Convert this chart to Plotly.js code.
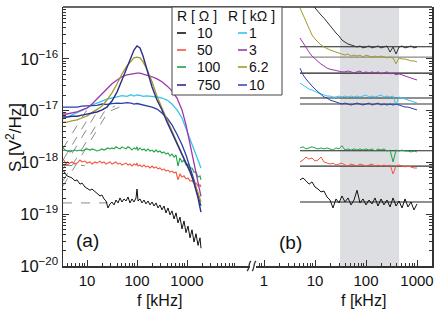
<!DOCTYPE html>
<html><head><meta charset="utf-8">
<script src="https://cdn.plot.ly/plotly-3.0.1.min.js"></script>
<style>html,body{margin:0;padding:0;background:#fff}</style>
</head><body><div id="chart" style="width:436px;height:313px"></div>
<script>
// ---------- panel (a) data (f in kHz, S in V^2/Hz) ----------
const fA = [3.3,4,5,6.3,7.9,10,12.6,15.8,20,25,31.6,40,50,63,76,87,100,115,132,158,200,251,316,398,501,631,794,955,1150,1380,1660,1900];
const a750 = [7.5e-18,7.5e-18,7.8e-18,7.8e-18,8.2e-18,8.6e-18,9.0e-18,9.4e-18,1.03e-17,1.17e-17,1.53e-17,2.3e-17,3.9e-17,6.6e-17,1.08e-16,1.48e-16,1.77e-16,1.62e-16,1.13e-16,6.1e-17,2.85e-17,1.6e-17,1.03e-17,6.0e-18,3.7e-18,2.2e-18,1.39e-18,9.7e-19,6.8e-19,4.0e-19,2.06e-19,1.1e-19];
const a6k2 = [6.0e-18,6.0e-18,6.3e-18,6.6e-18,7.2e-18,7.9e-18,9.0e-18,1.03e-17,1.23e-17,1.6e-17,2.2e-17,3.3e-17,5.1e-17,7.3e-17,9.1e-17,1.04e-16,1.08e-16,1.04e-16,8.7e-17,6.3e-17,3.6e-17,1.9e-17,1.12e-17,6.6e-18,4.0e-18,2.4e-18,1.45e-18,9.7e-19,6.5e-19,4.2e-19,2.6e-19,1.72e-19];
const a3k = [8.6e-18,8.6e-18,9.0e-18,9.4e-18,1.03e-17,1.12e-17,1.34e-17,1.67e-17,2.1e-17,2.6e-17,3.3e-17,3.9e-17,4.5e-17,4.9e-17,5.1e-17,5.3e-17,5.3e-17,5.3e-17,5.1e-17,4.9e-17,4.5e-17,4.1e-17,3.6e-17,3.0e-17,2.4e-17,1.75e-17,1.03e-17,5.3e-18,2.2e-18,8.9e-19,3.7e-19,2.2e-19];
const a1k = [6.9e-18,7.5e-18,8.2e-18,9.0e-18,1.03e-17,1.12e-17,1.28e-17,1.40e-17,1.53e-17,1.67e-17,1.75e-17,1.83e-17,1.95e-17,1.88e-17,2.02e-17,1.9e-17,2.0e-17,1.96e-17,1.88e-17,1.93e-17,1.9e-17,1.83e-17,1.75e-17,1.6e-17,1.34e-17,1.03e-17,7.2e-18,4.6e-18,2.7e-18,1.73e-18,1.11e-18,7.8e-19];
const a10k = [1.17e-17,1.17e-17,1.17e-17,1.17e-17,1.22e-17,1.23e-17,1.28e-17,1.26e-17,1.34e-17,1.32e-17,1.36e-17,1.40e-17,1.38e-17,1.42e-17,1.40e-17,1.34e-17,1.37e-17,1.33e-17,1.28e-17,1.22e-17,1.17e-17,1.07e-17,9.0e-18,7.2e-18,5.3e-18,3.5e-18,2.2e-18,1.39e-18,8.2e-19,4.6e-19,2.35e-19,1.45e-19];

const fD = [3.31,3.63,3.98,4.57,5.01,5.75,6.31,7.24,7.94,9.12,10,11.5,12.6,14.5,15.8,18.2,19.9,21.9,24.0,26.3,28.8,31.6,34.7,38.0,41.7,45.7,50.1,55.0,60.3,66.1,72.4,79.4,87.1,95.5,100,105,115,126,138,151,166,182,200,219,240,263,288,316,347,380,417,457,501,550,603,661,724,794,871,955,1047,1148,1259,1380,1514,1660,1820,1905];
const a10 = [7.1e-19,6.3e-19,5.5e-19,5.2e-19,5.0e-19,4.4e-19,4.6e-19,3.8e-19,4.0e-19,3.35e-19,3.2e-19,2.9e-19,3.06e-19,2.7e-19,2.56e-19,2.25e-19,2.35e-19,1.97e-19,1.80e-19,1.32e-19,1.58e-19,1.72e-19,1.51e-19,1.88e-19,1.65e-19,2.06e-19,1.72e-19,1.97e-19,1.80e-19,2.15e-19,1.65e-19,1.97e-19,1.72e-19,2.06e-19,3.06e-19,1.80e-19,1.97e-19,1.65e-19,1.88e-19,1.58e-19,1.80e-19,1.51e-19,1.72e-19,1.44e-19,1.65e-19,1.32e-19,1.51e-19,1.21e-19,1.44e-19,1.06e-19,1.32e-19,9.7e-20,1.16e-19,8.1e-20,1.06e-19,6.8e-20,8.8e-20,5.2e-20,7.4e-20,4.4e-20,5.9e-20,3.5e-20,5.0e-20,2.9e-20,4.2e-20,2.5e-20,3.5e-20,2.2e-20];
const a100 = [1.90e-18,1.73e-18,1.66e-18,1.59e-18,1.66e-18,1.73e-18,1.66e-18,1.73e-18,1.66e-18,1.73e-18,1.82e-18,1.73e-18,1.82e-18,1.73e-18,1.66e-18,1.73e-18,1.82e-18,1.73e-18,1.82e-18,1.90e-18,1.82e-18,1.90e-18,1.82e-18,2.0e-18,1.90e-18,1.82e-18,2.0e-18,1.90e-18,1.82e-18,2.0e-18,1.90e-18,1.73e-18,1.90e-18,1.82e-18,2.0e-18,1.73e-18,1.90e-18,1.73e-18,1.82e-18,1.66e-18,1.82e-18,1.66e-18,1.73e-18,1.59e-18,1.73e-18,1.59e-18,1.66e-18,1.52e-18,1.59e-18,1.45e-18,1.52e-18,1.33e-18,1.45e-18,1.27e-18,1.39e-18,8.5e-19,1.22e-18,1.02e-18,1.11e-18,8.9e-19,9.3e-19,7.8e-19,7.8e-19,6.5e-19,6.5e-19,5.2e-19,5.5e-19,4.6e-19];
const a50 = [1.16e-18,1.02e-18,8.9e-19,9.7e-19,1.02e-18,9.3e-19,9.7e-19,1.11e-18,1.02e-18,1.06e-18,9.7e-19,1.02e-18,9.3e-19,1.02e-18,9.7e-19,1.06e-18,9.7e-19,1.02e-18,9.3e-19,9.7e-19,1.02e-18,9.3e-19,9.7e-19,1.02e-18,9.3e-19,9.7e-19,8.9e-19,9.3e-19,9.7e-19,8.9e-19,9.3e-19,8.5e-19,9.3e-19,8.9e-19,9.7e-19,8.5e-19,8.9e-19,8.2e-19,8.9e-19,8.2e-19,8.5e-19,7.8e-19,8.5e-19,7.8e-19,8.2e-19,7.5e-19,7.8e-19,7.1e-19,7.5e-19,6.8e-19,7.1e-19,6.5e-19,6.8e-19,6.3e-19,6.5e-19,4.6e-19,6.0e-19,5.2e-19,5.5e-19,4.8e-19,5.0e-19,4.4e-19,4.4e-19,4.0e-19,4.0e-19,3.5e-19,3.7e-19,3.35e-19];

// dashed model curves in panel (a)
const fitF = [[3.31,9.55,14.5],[3.31,12.6,19.9],[3.31,15.8,26.3],[3.31,21.9,36.3],[3.31,26.3,50.1],[3.31,26],[3.31,9],[3.31,8]];
const fitS = [[1.85e-18,9.8e-18,1.17e-17],[1.11e-18,9.4e-18,1.17e-17],[7.5e-19,9.4e-18,1.17e-17],[4.4e-19,9.4e-18,1.23e-17],[3.5e-19,9.4e-18,1.23e-17],[1.65e-19,1.65e-19],[8.7e-19,8.7e-19],[1.7e-18,1.7e-18]];

// ---------- panel (b) data ----------
const fB = [5.08,5.82,6.66,7.63,8.73,10.0,11.45,13.1,15.0,17.2,19.7,22.5,25.8,29.5,33.8,38.7,44.4,50.8,58.2,66.6,76.2,87.3,100,114.5,131,150,172,197,225,258,296,339,388,444,508,582,666,763,873,1000];
const b750 = [5.2e-15,3.6e-15,2.5e-15,1.8e-15,1.25e-15,9.6e-16,8.0e-16,7.0e-16,6.1e-16,5.1e-16,4.3e-16,3.76e-16,3.15e-16,2.75e-16,2.3e-16,2.1e-16,1.93e-16,1.85e-16,1.77e-16,1.69e-16,1.77e-16,1.62e-16,1.69e-16,1.77e-16,1.62e-16,1.69e-16,1.77e-16,1.62e-16,1.69e-16,1.77e-16,1.35e-16,1.69e-16,1.24e-16,1.69e-16,1.77e-16,1.62e-16,1.69e-16,1.77e-16,1.62e-16,1.69e-16];
const b6k2 = [9.6e-16,7.0e-16,5.1e-16,3.76e-16,2.88e-16,2.41e-16,2.1e-16,1.85e-16,1.69e-16,1.55e-16,1.48e-16,1.41e-16,1.35e-16,1.29e-16,1.24e-16,1.18e-16,1.24e-16,1.13e-16,1.18e-16,1.13e-16,1.18e-16,1.08e-16,1.18e-16,1.13e-16,1.08e-16,1.13e-16,1.08e-16,1.13e-16,1.08e-16,1.04e-16,1.08e-16,1.04e-16,8.0e-17,1.04e-16,9.9e-17,9.9e-17,9.5e-17,9.1e-17,9.1e-17,8.7e-17];
const b3k = [2.52e-16,2.02e-16,1.62e-16,1.35e-16,1.13e-16,9.9e-17,8.7e-17,7.9e-17,7.3e-17,6.6e-17,6.3e-17,6.1e-17,5.8e-17,5.8e-17,5.6e-17,5.6e-17,5.8e-17,5.6e-17,5.3e-17,5.6e-17,5.8e-17,5.3e-17,5.6e-17,5.3e-17,5.6e-17,5.3e-17,5.6e-17,5.1e-17,5.3e-17,5.6e-17,5.1e-17,5.3e-17,4.9e-17,5.1e-17,4.9e-17,4.6e-17,4.45e-17,4.25e-17,4.07e-17,3.9e-17];
const b1k = [3.4e-17,3.1e-17,2.86e-17,2.6e-17,2.5e-17,2.3e-17,2.2e-17,2.1e-17,2.0e-17,1.91e-17,1.91e-17,1.83e-17,1.83e-17,1.91e-17,1.83e-17,1.91e-17,1.83e-17,1.91e-17,1.83e-17,1.91e-17,1.83e-17,1.91e-17,2.0e-17,1.83e-17,1.91e-17,1.83e-17,1.91e-17,2.0e-17,1.83e-17,1.91e-17,1.83e-17,1.91e-17,1.28e-17,1.83e-17,1.75e-17,1.67e-17,1.6e-17,1.53e-17,1.46e-17,1.40e-17];
const b10k = [6.6e-17,4.9e-17,4.07e-17,3.56e-17,2.98e-17,2.6e-17,2.3e-17,2.0e-17,1.83e-17,1.75e-17,1.6e-17,1.53e-17,1.46e-17,1.40e-17,1.34e-17,1.40e-17,1.34e-17,1.28e-17,1.34e-17,1.40e-17,1.34e-17,1.28e-17,1.34e-17,1.40e-17,1.28e-17,1.34e-17,1.40e-17,1.28e-17,1.34e-17,1.28e-17,1.34e-17,1.28e-17,1.34e-17,1.28e-17,1.23e-17,1.17e-17,1.17e-17,1.12e-17,1.07e-17,1.03e-17];
const b100 = [1.90e-18,2.0e-18,1.82e-18,1.90e-18,2.0e-18,1.90e-18,1.82e-18,1.90e-18,1.82e-18,1.90e-18,1.82e-18,1.73e-18,1.90e-18,1.82e-18,2.1e-18,1.73e-18,1.82e-18,1.73e-18,1.82e-18,1.73e-18,1.82e-18,1.73e-18,1.82e-18,1.73e-18,1.82e-18,1.66e-18,1.82e-18,1.73e-18,1.82e-18,1.66e-18,1.73e-18,1.02e-18,1.73e-18,1.66e-18,1.73e-18,1.66e-18,1.66e-18,1.59e-18,1.66e-18,1.59e-18];
const b50 = [1.02e-18,1.11e-18,1.27e-18,1.16e-18,1.22e-18,1.06e-18,1.11e-18,1.27e-18,1.02e-18,9.7e-19,9.3e-19,9.7e-19,8.9e-19,9.3e-19,9.7e-19,8.9e-19,8.5e-19,9.3e-19,8.9e-19,8.5e-19,9.3e-19,8.9e-19,8.5e-19,8.9e-19,9.3e-19,8.5e-19,8.9e-19,8.5e-19,8.9e-19,8.5e-19,8.9e-19,6.0e-19,8.5e-19,8.9e-19,8.5e-19,8.2e-19,8.5e-19,8.2e-19,7.8e-19,7.8e-19];
const b10 = [4.6e-19,5.0e-19,4.4e-19,3.8e-19,4.2e-19,3.35e-19,3.06e-19,2.7e-19,2.8e-19,2.15e-19,1.88e-19,1.32e-19,1.97e-19,1.65e-19,2.25e-19,1.72e-19,2.06e-19,1.51e-19,1.88e-19,2.9e-19,1.65e-19,1.97e-19,1.51e-19,1.88e-19,1.58e-19,2.06e-19,1.44e-19,1.97e-19,1.51e-19,1.88e-19,1.38e-19,2.06e-19,1.44e-19,1.80e-19,1.32e-19,1.97e-19,1.38e-19,1.72e-19,1.21e-19,1.58e-19];
const plateauF = [5.08, 3000];
const plateauLevels = [1.71e-16,1.08e-16,5.3e-17,1.75e-17,1.34e-17,1.68e-18,8.5e-19,1.72e-19];
const plateauColors = ['#222','#8a8a8a','#222','#222','#333','#222','#333','#222'];
const bandLow = 31, bandHigh = 445;   // shaded fit window, kHz

// ---------- legend ----------
const ohmLabels = ['10','50','100','750'];
const ohmColors = ['#111111','#f4553f','#1ea34a','#2b2f88'];
const kohmLabels = ['1','3','6.2','10'];
const kohmColors = ['#38c3ef','#9d35ae','#a19b2c','#3a4fb8'];
const xTickA = [10,100,1000];
const xTickB = [1,10,100,1000];
const yExp = [-20,-19,-18,-17,-16,-15];

// ---------- geometry helpers ----------
const W=436,H=313,L=63,R=4,T=7,B=47, PW=W-L-R, PH=H-T-B;
const px = x => (x-L)/PW;
const py = y => (H-B-y)/PH;
const FONT = 'Arial, "Liberation Sans", sans-serif';

function minorVals(e0, e1){const v=[];for(let e=e0;e<=e1;e++)for(let m=2;m<=9;m++)v.push(m*Math.pow(10,e));return v;}

const traces = [];
fitF.forEach((f,i)=>traces.push({x:f,y:fitS[i],xaxis:'x',yaxis:'y',mode:'lines',line:{color:'#8c8c8c',width:1,dash:'dash'},hoverinfo:'skip'}));
const aSeries = [[fD,a10,ohmColors[0],1],[fD,a50,ohmColors[1],1.1],[fD,a100,ohmColors[2],1.1],
  [fA,a1k,kohmColors[0],1.3],[fA,a10k,'#2c3ea8',1.3],[fA,a3k,kohmColors[1],1.3],[fA,a6k2,kohmColors[2],1.3],[fA,a750,ohmColors[3],1.4]];
aSeries.forEach(s=>traces.push({x:s[0],y:s[1],xaxis:'x',yaxis:'y',mode:'lines',line:{color:s[2],width:s[3]}}));
plateauLevels.forEach((v,i)=>traces.push({x:plateauF,y:[v,v],xaxis:'x2',yaxis:'y',mode:'lines',line:{color:plateauColors[i],width:1.2}}));
const bSeries = [[b750,'#333333'],[b6k2,kohmColors[2]],[b3k,kohmColors[1]],[b1k,kohmColors[0]],[b10k,'#2c3ea8'],[b100,ohmColors[2]],[b50,ohmColors[1]],[b10,'#111111']];
bSeries.forEach(s=>traces.push({x:fB,y:s[0],xaxis:'x2',yaxis:'y',mode:'lines',line:{color:s[1],width:1}}));
traces.push({x:[10],y:[1e-17],xaxis:'x2',yaxis:'y2',mode:'markers',marker:{opacity:0},hoverinfo:'skip'});

const axLine = {showline:true,linecolor:'#333',linewidth:1.5,zeroline:false,showgrid:false,ticks:'inside',ticklen:6,tickwidth:1,tickcolor:'#333',tickfont:{family:FONT,size:15,color:'#111'}};

const shapes = [
  {type:'rect',xref:'x2',yref:'paper',x0:bandLow,x1:bandHigh,y0:0,y1:1,fillcolor:'#dddee1',line:{width:0},layer:'below'},
  {type:'line',xref:'paper',yref:'paper',x0:0,x1:1,y0:1,y1:1,line:{color:'#333',width:1.5}},
  {type:'rect',xref:'paper',yref:'paper',x0:px(172),x1:px(282),y0:py(95),y1:1,fillcolor:'#fff',line:{color:'#444',width:1},layer:'above'}
];
// axis break marks
[[247],[252]].forEach(([x0])=>{
  const p=`M${px(x0)},${py(271)} C${px(x0+3)},${py(269)} ${px(x0+1)},${py(263)} ${px(x0+4)},${py(261)}`;
  shapes.push({type:'path',xref:'paper',yref:'paper',path:p,line:{color:'#333',width:1.3}});
});
const annotations = [];
function txt(t,x,y,size,anchor,extra){annotations.push(Object.assign({text:t,xref:'paper',yref:'paper',x:px(x),y:py(y),xanchor:anchor||'left',yanchor:'middle',showarrow:false,font:{family:FONT,size:size,color:'#111'}},extra||{}));}
const rowsY=[33,50,67,85];
txt('R [ Ω ]',175,16,14);
txt('R [ kΩ ]',226,16,14);
ohmLabels.forEach((l,i)=>{txt(l,195,rowsY[i],14);shapes.push({type:'line',xref:'paper',yref:'paper',x0:px(177),x1:px(186),y0:py(rowsY[i]),y1:py(rowsY[i]),line:{color:ohmColors[i],width:1.6},layer:'above'});});
kohmLabels.forEach((l,i)=>{txt(l,247,rowsY[i],14);shapes.push({type:'line',xref:'paper',yref:'paper',x0:px(238),x1:px(247),y0:py(rowsY[i]),y1:py(rowsY[i]),line:{color:kohmColors[i],width:1.6},layer:'above'});});
txt('(a)',74,240,19);
txt('(b)',277,242,19);
txt('f [kHz]',159,300,16,'center');
txt('f [kHz]',363,300,16,'center');
annotations.push({text:'S [V<sup>2</sup>/Hz]',xref:'paper',yref:'paper',x:px(14),y:py(138),xanchor:'center',yanchor:'middle',textangle:-90,showarrow:false,font:{family:FONT,size:17,color:'#111'}});

const layout = {
  width:W,height:H,margin:{l:L,r:R,t:T,b:B,pad:0},paper_bgcolor:'#fff',plot_bgcolor:'rgba(0,0,0,0)',showlegend:false,
  xaxis:Object.assign({},axLine,{type:'log',domain:[0,px(250)],range:[0.52,4.26],tickvals:xTickA,ticktext:xTickA.map(String),anchor:'y',
    minor:{ticks:'inside',ticklen:3,tickcolor:'#333',tickvals:minorVals(0,3)}}),
  xaxis2:Object.assign({},axLine,{type:'log',domain:[px(256),1],range:[-0.157,3.294],tickvals:xTickB,ticktext:xTickB.map(String),anchor:'y',
    minor:{ticks:'inside',ticklen:3,tickcolor:'#333',tickvals:minorVals(-1,3)}}),
  yaxis:Object.assign({},axLine,{type:'log',range:[-20,-15],anchor:'x',tickvals:yExp.map(e=>Math.pow(10,e)),
    ticktext:yExp.map(e=>'10<sup>'+(e<0?'−'+(-e):e)+'</sup>'),tickfont:{family:FONT,size:16.5,color:'#111'},
    minor:{ticks:'inside',ticklen:3,tickcolor:'#333',tickvals:minorVals(-20,-16)}}),
  yaxis2:Object.assign({},axLine,{type:'log',range:[-20,-15],overlaying:'y',side:'right',anchor:'x2',showticklabels:false,
    tickvals:yExp.map(e=>Math.pow(10,e)),minor:{ticks:'inside',ticklen:3,tickcolor:'#333',tickvals:minorVals(-20,-16)}}),
  shapes:shapes,annotations:annotations
};
Plotly.newPlot('chart',traces,layout,{staticPlot:true,displayModeBar:false});
</script></body></html>
